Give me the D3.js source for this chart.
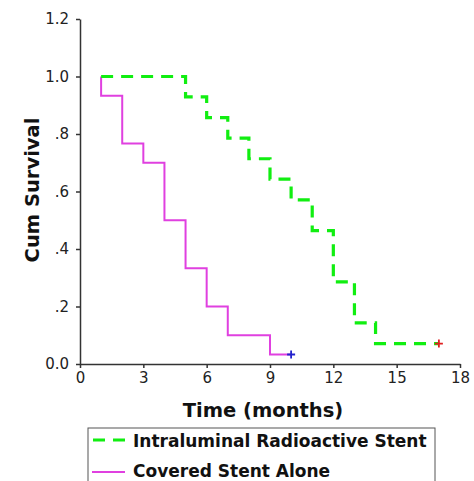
<!DOCTYPE html>
<html><head><meta charset="utf-8">
<script src="https://cdn.jsdelivr.net/npm/d3@7"></script>
<style>body{margin:0;background:#fff}svg{display:block}</style>
</head><body>
<svg id="c" width="474" height="481"></svg>
<script>
const xTicks = [0,3,6,9,12,15,18];
const yTicks = [0,0.2,0.4,0.6,0.8,1.0,1.2];
const yTickLabels = ["0.0",".2",".4",".6",".8","1.0","1.2"];
const seriesNames = ["Intraluminal Radioactive Stent","Covered Stent Alone"];
const radioTime = [1,5,6,7,8,9,10,11,12,13,14,17];
const radioSurv = [1.0,0.929,0.857,0.786,0.714,0.643,0.571,0.464,0.286,0.143,0.071,0.071];
const coveredTime = [1,1,2,3,4,5,6,7,9,10];
const coveredSurv = [1.0,0.933,0.767,0.7,0.5,0.333,0.2,0.1,0.033,0.033];
const censored = [{t:10,s:0.033,c:"#2222cc"},{t:17,s:0.071,c:"#e02020"}];

const svg = d3.select("#c");
const x = d3.scaleLinear().domain([0,18]).range([80,460]);
const y = d3.scaleLinear().domain([0,1.2]).range([364,19]);

const ax = svg.append("g").attr("transform","translate(0,364)")
  .call(d3.axisBottom(x).tickValues(xTicks).tickSize(4).tickPadding(4).tickSizeOuter(0));
const ay = svg.append("g").attr("transform","translate(80,0)")
  .call(d3.axisLeft(y).tickValues(yTicks).tickFormat((d,i)=>yTickLabels[i]).tickSize(4).tickPadding(7).tickSizeOuter(0));
[ax,ay].forEach(g=>{
  g.selectAll("path,line").attr("stroke","#333").attr("stroke-width",1.5);
  g.selectAll("text").attr("font-family","DejaVu Sans").attr("font-size",15).attr("fill","#222");
});

const line = d3.line().x(d=>x(d[0])).y(d=>y(d[1])).curve(d3.curveStepAfter);
svg.append("path").datum(coveredTime.map((t,i)=>[t,coveredSurv[i]]))
  .attr("d",line).attr("fill","none").attr("stroke","#e040e0").attr("stroke-width",2);
svg.append("path").datum(radioTime.map((t,i)=>[t,radioSurv[i]]))
  .attr("d",line).attr("fill","none").attr("stroke","#11ee11").attr("stroke-width",3.2)
  .attr("stroke-dasharray","12,8");

censored.forEach(c=>{
  const cx=x(c.t), cy=y(c.s);
  svg.append("path").attr("d",`M${cx-4},${cy}H${cx+4}M${cx},${cy-4}V${cy+4}`)
    .attr("stroke",c.c).attr("stroke-width",1.8);
});

svg.append("text").attr("x",263).attr("y",417).attr("text-anchor","middle")
  .attr("font-family","DejaVu Sans").attr("font-weight","bold").attr("font-size",19.5)
  .attr("fill","#111").text("Time (months)");
svg.append("text").attr("transform","translate(39,190) rotate(-90)").attr("text-anchor","middle")
  .attr("font-family","DejaVu Sans").attr("font-weight","bold").attr("font-size",19.5)
  .attr("fill","#111").text("Cum Survival");

// legend
svg.append("rect").attr("x",88).attr("y",428).attr("width",347).attr("height",60)
  .attr("fill","none").attr("stroke","#555").attr("stroke-width",1);
svg.append("line").attr("x1",93).attr("x2",125).attr("y1",440).attr("y2",440)
  .attr("stroke","#11ee11").attr("stroke-width",3.2).attr("stroke-dasharray","12,8");
svg.append("line").attr("x1",92).attr("x2",125).attr("y1",472).attr("y2",472)
  .attr("stroke","#e040e0").attr("stroke-width",2);
svg.append("text").attr("x",133).attr("y",447).attr("font-family","DejaVu Sans")
  .attr("font-weight","bold").attr("font-size",17).attr("fill","#111").text(seriesNames[0]);
svg.append("text").attr("x",133).attr("y",477).attr("font-family","DejaVu Sans")
  .attr("font-weight","bold").attr("font-size",17).attr("fill","#111").text(seriesNames[1]);
</script>
</body></html>
